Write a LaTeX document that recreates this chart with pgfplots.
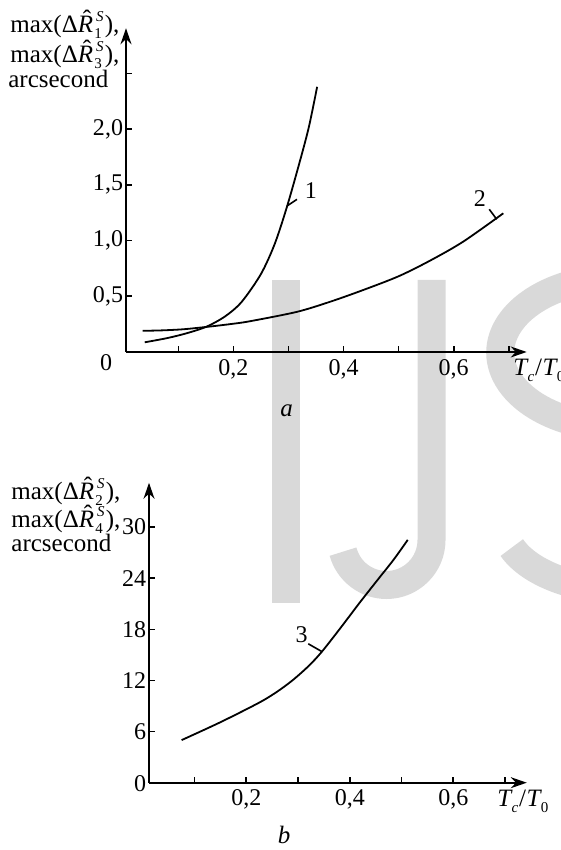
\documentclass[border=0pt]{standalone}
\usepackage{fontspec}
\setmainfont{Liberation Serif}
\usepackage{pgfplots}
\pgfplotsset{compat=1.18}
\usetikzlibrary{arrows.meta}

% hatted italic R
\newcommand\hatR{\rlap{\kern0.2em\raisebox{0.2em}{\char"02C6}}\textit{R}}
% hatted R with stacked sub- and superscript
\newcommand\Rs[1]{\hatR\kern0.05em\rlap{\raisebox{-0.5ex}{\fontsize{7.5}{7.5}\selectfont #1}}\raisebox{1.0ex}{\fontsize{7.5}{7.5}\selectfont\kern0.12em\textit{S}}\kern0.05em}
% T_c / T_0
\newcommand\TcT{\textit{T}\kern-0.05em\raisebox{-0.45ex}{\fontsize{7.5}{7.5}\selectfont\textit{c}}\kern0.5pt/\kern0.3pt\textit{T}\kern-0.05em\raisebox{-0.45ex}{\fontsize{7.5}{7.5}\selectfont 0}}

\definecolor{wmgray}{gray}{0.85}

\pgfplotsset{
  chart/.style={
    axis lines=left,
    axis line style={line width=0.9pt, -{Stealth[length=8pt,width=5.5pt]}},
    tick align=inside,
    major tick length=3pt,
    tick style={line width=0.8pt, black},
    enlargelimits=false,
    clip=false,
    anchor=south west,
    ticklabel style={font=\fontsize{12}{12}\selectfont},
    yticklabel style={inner xsep=1.3pt},
  },
  curve/.style={black, line width=0.9pt, no marks, smooth},
}

\begin{document}
\begin{tikzpicture}
\path[use as bounding box] (0,0) rectangle (280.5pt,425pt);

% watermark letters, drawn first so they sit behind the plots
\begin{scope}[x=0.5pt, y=-0.5pt, shift={(0,425pt)}]
  \fill[wmgray] (272,280) rectangle (300,603);
  \draw[wmgray, line width=14pt] (431.5,280) -- (431.5,540)
        arc[start angle=0, end angle=165, radius=45];
  \draw[wmgray, line width=14pt] (733,327) arc[start angle=-20, end angle=-250, x radius=120, y radius=75]
        -- (672,463) arc[start angle=-70, end angle=160, x radius=125, y radius=66];
\end{scope}

% (a) curves 1 and 2
\begin{axis}[chart,
  at={(63pt,249pt)},
  x=275.4pt, y=55.7pt,
  xmin=0.005, xmax=0.7324, ymin=0, ymax=2.906,
  xtick={0.1,0.2,0.3,0.4,0.5,0.6,0.7},
  xticklabels={,{0,2},,{0,4},,{0,6},},
  ytick={0.5,1,1.5,2,2.5},
  yticklabels={{0,5},{1,0},{1,5},{2,0},},
]
\addplot[curve] coordinates {
  (0.039,0.087) (0.080,0.125) (0.115,0.168) (0.151,0.227) (0.185,0.320)
  (0.215,0.450) (0.250,0.700) (0.275,0.970) (0.297,1.300) (0.320,1.700)
  (0.337,2.020) (0.352,2.380)};
\addplot[curve] coordinates {
  (0.035,0.190) (0.070,0.194) (0.109,0.204) (0.151,0.225) (0.194,0.250)
  (0.230,0.276) (0.315,0.360) (0.375,0.450) (0.436,0.557) (0.500,0.680)
  (0.557,0.820) (0.617,0.990) (0.690,1.245)};
\draw[line width=0.8pt] (axis cs:0.2972,1.31) -- (axis cs:0.3154,1.37);
\node[font=\fontsize{12}{12}\selectfont] at (axis cs:0.3408,1.445) {1};
\draw[line width=0.8pt] (axis cs:0.678,1.191) -- (axis cs:0.6645,1.281);
\node[font=\fontsize{12}{12}\selectfont] at (axis cs:0.6476,1.38) {2};
\end{axis}

% (b) curve 3
\begin{axis}[chart,
  at={(74.5pt,33.65pt)},
  x=258.75pt, y=4.26pt,
  xmin=0.012, xmax=0.742, ymin=0, ymax=35.2,
  xtick={0.1,0.2,0.3,0.4,0.5,0.6,0.7},
  xticklabels={,{0,2},,{0,4},,{0,6},},
  ytick={6,12,18,24,30},
  yticklabels={6,12,18,24,30},
]
\addplot[curve] coordinates {
  (0.075,5.00) (0.150,7.10) (0.225,9.40) (0.260,10.70) (0.290,12.05)
  (0.320,13.67) (0.345,15.30) (0.380,18.00) (0.420,21.20) (0.455,23.90)
  (0.485,26.20) (0.512,28.50)};
\draw[line width=0.8pt] (axis cs:0.3457,15.40) -- (axis cs:0.3198,16.30);
\node[font=\fontsize{12}{12}\selectfont] at (axis cs:0.307,17.40) {3};
\end{axis}

% labels, in picture pixels measured from the top left
\begin{scope}[x=0.5pt, y=-0.5pt, shift={(0,425pt)}, every node/.style={font=\fontsize{12.5}{12.5}\selectfont, inner sep=0pt}]
  \node[anchor=base west] at (10,33) {max(Δ\Rs{1}),};
  \node[anchor=base west] at (10,63) {max(Δ\Rs{3}),};
  \node[anchor=base west] at (8,88) {arcsecond};
  \node[font=\fontsize{12}{12}\selectfont] at (106,363) {0};
  \node[anchor=base west] at (513,376) {\TcT};
  \node at (286.7,411) {\textit{a}};

  \node[anchor=base west] at (11,500) {max(Δ\Rs{2}),};
  \node[anchor=base west] at (11,528) {max(Δ\Rs{4}),};
  \node[anchor=base west] at (11,552) {arcsecond};
  \node[font=\fontsize{12}{12}\selectfont] at (140,784) {0};
  \node[anchor=base west] at (497,807) {\TcT};
  \node at (284,835) {\textit{b}};
\end{scope}
\end{tikzpicture}
\end{document}
